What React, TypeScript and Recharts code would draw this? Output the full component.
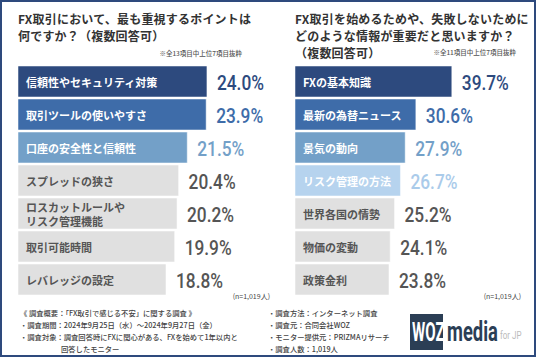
import React from "react";
import { BarChart, Bar, XAxis, YAxis, Cell, LabelList } from "recharts";

const leftCategories = [
  "信頼性やセキュリティ対策",
  "取引ツールの使いやすさ",
  "口座の安全性と信頼性",
  "スプレッドの狭さ",
  "ロスカットルールや\nリスク管理機能",
  "取引可能時間",
  "レバレッジの設定",
];
const leftValues = [24.0, 23.9, 21.5, 20.4, 20.2, 19.9, 18.8];

const rightCategories = [
  "FXの基本知識",
  "最新の為替ニュース",
  "景気の動向",
  "リスク管理の方法",
  "世界各国の情勢",
  "物価の変動",
  "政策金利",
];
const rightValues = [39.7, 30.6, 27.9, 26.7, 25.2, 24.1, 23.8];

const GRAY = "#e0e0e0";
const leftBarColors = ["#2d4a7e", "#3e6ca9", "#73a0c8", GRAY, GRAY, GRAY, GRAY];
const rightBarColors = ["#2d4a7e", "#3e6ca9", "#73a0c8", "#b6d3ee", GRAY, GRAY, GRAY];
const leftValueColors = ["#2d4a7e", "#3e6ca9", "#73a0c8", "#555", "#555", "#555", "#555"];
const rightValueColors = ["#2d4a7e", "#3e6ca9", "#73a0c8", "#aacbea", "#555", "#555", "#555"];

const JP = "'Noto Sans CJK JP', 'Noto Sans', sans-serif";
const NUM = "Roboto, 'DejaVu Sans', sans-serif";

type PanelProps = {
  categories: string[];
  values: number[];
  barColors: string[];
  valueColors: string[];
  domainMax: number;
  left: number;
  width: number;
};

const Panel = ({ categories, values, barColors, valueColors, domainMax, left, width }: PanelProps) => {
  const data = categories.map((name, i) => ({ name, value: values[i] }));

  const renderName = (props: any) => {
    const { x, y, height, value, index } = props;
    const lines = String(value).split("\n");
    const color = barColors[index] === GRAY ? "#555" : "#fff";
    const cy = y + height / 2;
    const lh = 14;
    return (
      <text
        x={x + 8}
        y={cy - ((lines.length - 1) * lh) / 2}
        fill={color}
        fontSize={11}
        fontWeight={700}
        fontFamily={JP}
        dominantBaseline="central"
      >
        {lines.map((l, i) => (
          <tspan key={i} x={x + 8} dy={i === 0 ? 0 : lh}>
            {l}
          </tspan>
        ))}
      </text>
    );
  };

  const renderValue = (props: any) => {
    const { x, y, width: w, height, value, index } = props;
    return (
      <text
        x={x + w + 10}
        y={y + height / 2 + 1}
        fill={valueColors[index]}
        fontSize={21}
        fontWeight={500}
        fontFamily={NUM}
        dominantBaseline="central"
        textLength={47}
        lengthAdjust="spacingAndGlyphs"
      >
        {Number(value).toFixed(1)}%
      </text>
    );
  };

  return (
    <div style={{ position: "absolute", left, top: 65 }}>
      <BarChart
        width={width}
        height={231}
        data={data}
        layout="vertical"
        margin={{ top: 0, right: 0, bottom: 0, left: 0 }}
        style={{ overflow: "visible" }}
      >
        <XAxis type="number" domain={[0, domainMax]} hide />
        <YAxis type="category" dataKey="name" hide />
        <Bar dataKey="value" barSize={31} isAnimationActive={false}>
          {data.map((_, i) => (
            <Cell key={i} fill={barColors[i]} stroke="rgba(255,255,255,0.5)" strokeWidth={1} />
          ))}
          <LabelList dataKey="name" content={renderName} />
          <LabelList dataKey="value" content={renderValue} />
        </Bar>
      </BarChart>
    </div>
  );
};

const abs = (s: React.CSSProperties): React.CSSProperties => ({ position: "absolute", ...s });

export default function App() {
  return (
    <div
      style={{
        position: "relative",
        width: 536,
        height: 357,
        background: "#fff",
        overflow: "hidden",
        fontFamily: JP,
        color: "#333",
      }}
    >
      <style>{"body{margin:0} .recharts-wrapper svg{overflow:visible}"}</style>

      {/* titles */}
      <div style={abs({ left: 18, top: 10, fontSize: 12, lineHeight: "17px", fontWeight: 700, letterSpacing: 0.2, whiteSpace: "nowrap" })}>
        FX取引において、最も重視するポイントは
        <br />
        何ですか？（複数回答可）
      </div>
      <div style={abs({ left: 140, top: 48, width: 102, textAlign: "right", fontSize: 6.5, lineHeight: "10px", color: "#555", fontWeight: 500, whiteSpace: "nowrap" })}>
        ※全13項目中上位7項目抜粋
      </div>

      <div style={abs({ left: 295, top: 10, fontSize: 12, lineHeight: "17px", fontWeight: 700, letterSpacing: 0.2, whiteSpace: "nowrap" })}>
        FX取引を始めるためや、失敗しないために
        <br />
        どのような情報が重要だと思いますか？
        <br />
        （複数回答可）
      </div>
      <div style={abs({ left: 410, top: 47, width: 106, textAlign: "right", fontSize: 6.5, lineHeight: "10px", color: "#555", fontWeight: 500, whiteSpace: "nowrap" })}>
        ※全11項目中上位7項目抜粋
      </div>

      <Panel
        categories={leftCategories}
        values={leftValues}
        barColors={leftBarColors}
        valueColors={leftValueColors}
        domainMax={31.5}
        left={18}
        width={248}
      />
      <Panel
        categories={rightCategories}
        values={rightValues}
        barColors={rightBarColors}
        valueColors={rightValueColors}
        domainMax={60}
        left={295}
        width={237}
      />

      <div style={abs({ left: 200, top: 291, width: 70, textAlign: "right", fontSize: 7, lineHeight: "10px", color: "#444" })}>
        (n=1,019人)
      </div>
      <div style={abs({ left: 451, top: 291, width: 70, textAlign: "right", fontSize: 7, lineHeight: "10px", color: "#444" })}>
        (n=1,019人)
      </div>

      {/* footer */}
      <div style={abs({ left: 20, top: 307, fontSize: 7.3, lineHeight: "12px", color: "#444", fontWeight: 500, whiteSpace: "nowrap" })}>
        《 調査概要：「FX取引で感じる不安」に関する調査 》
        <br />
        ・調査期間：2024年9月25日（水）～2024年9月27日（金）
        <br />
        ・調査対象：調査回答時にFXに関心がある、FXを始めて1年以内と
        <br />
        <span style={{ paddingLeft: 41 }}>回答したモニター</span>
      </div>
      <div style={abs({ left: 268, top: 307, fontSize: 7.3, lineHeight: "12px", color: "#444", fontWeight: 500, whiteSpace: "nowrap" })}>
        ・調査方法：インターネット調査
        <br />
        ・調査元：合同会社WOZ
        <br />
        ・モニター提供元：PRIZMAリサーチ
        <br />
        ・調査人数：1,019人
      </div>

      {/* logo */}
      <div style={abs({ left: 410, top: 314, width: 33, height: 36, background: "#2b3e55" })} />
      <div
        style={abs({
          left: 412,
          top: 314,
          color: "#fff",
          fontFamily: NUM,
          fontWeight: 700,
          fontSize: 26,
          lineHeight: "36px",
          whiteSpace: "nowrap",
          transform: "scaleX(0.58)",
          transformOrigin: "left center",
        })}
      >
        WOZ
      </div>
      <div
        style={abs({
          left: 447,
          top: 316,
          fontFamily: NUM,
          fontWeight: 700,
          fontSize: 27,
          lineHeight: "32px",
          color: "#2b3e55",
          whiteSpace: "nowrap",
          transform: "scaleX(0.68)",
          transformOrigin: "left center",
        })}
      >
        media
      </div>
      <div
        style={abs({
          left: 500,
          top: 330,
          fontFamily: NUM,
          fontSize: 10,
          lineHeight: "12px",
          color: "#bbb",
          whiteSpace: "nowrap",
          transform: "scaleX(0.8)",
          transformOrigin: "left center",
        })}
      >
        for JP
      </div>

      {/* frame */}
      <div
        style={abs({
          left: 0,
          top: 0,
          width: 536,
          height: 357,
          boxSizing: "border-box",
          border: "2px solid #2e4a7d",
          pointerEvents: "none",
        })}
      />
    </div>
  );
}
